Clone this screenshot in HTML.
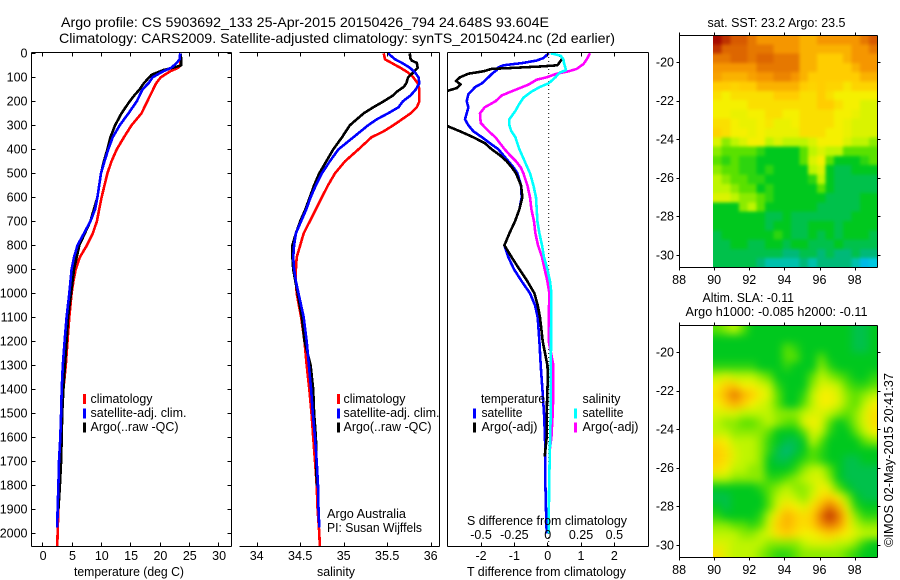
<!DOCTYPE html>
<html lang="en">
<head>
<meta charset="utf-8">
<title>Argo profile 5903692_133</title>
<style>
html,body{margin:0;padding:0;background:#fff}
svg{display:block}
text{font-family:"Liberation Sans",sans-serif;font-size:12.5px;fill:#000}
.title{font-size:14px}
</style>
</head>
<body>
<svg id="chart" width="900" height="580" viewBox="0 0 900 580" xmlns="http://www.w3.org/2000/svg">
<defs>
<clipPath id="clip1"><rect x="32" y="52" width="199.5" height="494"/></clipPath>
<clipPath id="clip2"><rect x="239.5" y="52" width="200" height="494"/></clipPath>
<clipPath id="clip3"><rect x="448" y="52" width="200.5" height="494"/></clipPath>
<clipPath id="clipMap1"><rect x="713" y="35" width="164.5" height="232.5"/></clipPath>
<clipPath id="clipMap2"><rect x="713" y="325" width="164.5" height="232.5"/></clipPath>
<filter id="blurSst" filterUnits="userSpaceOnUse" x="680" y="0" width="230" height="300" color-interpolation-filters="sRGB"><feGaussianBlur stdDeviation="1.6"/></filter>
<filter id="blurSla" filterUnits="userSpaceOnUse" x="680" y="290" width="230" height="290" color-interpolation-filters="sRGB"><feGaussianBlur stdDeviation="4.2"/></filter>
</defs>
<text class="title" x="61" y="27" textLength="488" lengthAdjust="spacingAndGlyphs">Argo profile: CS 5903692_133 25-Apr-2015 20150426_794 24.648S 93.604E</text>
<text class="title" x="59" y="43" textLength="556" lengthAdjust="spacingAndGlyphs">Climatology: CARS2009. Satellite-adjusted climatology: synTS_20150424.nc (2d earlier)</text>

<g id="maps"></g>
<g id="lines"></g>
<g id="axes"></g>

<g>
<rect x="83" y="394" width="3" height="10" fill="#f00"/>
<rect x="83" y="408.5" width="3" height="10" fill="#00f"/>
<rect x="83" y="422.5" width="3" height="10" fill="#000"/>
<text x="90.5" y="403" textLength="62" lengthAdjust="spacingAndGlyphs">climatology</text>
<text x="90.5" y="417" textLength="96" lengthAdjust="spacingAndGlyphs">satellite-adj. clim.</text>
<text x="90.5" y="431" textLength="88" lengthAdjust="spacingAndGlyphs">Argo(..raw -QC)</text>
</g>
<g>
<rect x="337" y="394" width="3" height="10" fill="#f00"/>
<rect x="337" y="408.5" width="3" height="10" fill="#00f"/>
<rect x="337" y="422.5" width="3" height="10" fill="#000"/>
<text x="343.5" y="403" textLength="62" lengthAdjust="spacingAndGlyphs">climatology</text>
<text x="343.5" y="417" textLength="96" lengthAdjust="spacingAndGlyphs">satellite-adj. clim.</text>
<text x="343.5" y="431" textLength="88" lengthAdjust="spacingAndGlyphs">Argo(..raw -QC)</text>
</g>
<g>
<text x="481" y="403" textLength="64" lengthAdjust="spacingAndGlyphs">temperature</text>
<rect x="473" y="408.5" width="3" height="10" fill="#00f"/>
<rect x="473" y="422.5" width="3" height="10" fill="#000"/>
<text x="481.5" y="417" textLength="41" lengthAdjust="spacingAndGlyphs">satellite</text>
<text x="481.5" y="431" textLength="56" lengthAdjust="spacingAndGlyphs">Argo(-adj)</text>
<text x="582.5" y="403" textLength="38" lengthAdjust="spacingAndGlyphs">salinity</text>
<rect x="574" y="408.5" width="3" height="10" fill="#0ff"/>
<rect x="574" y="422.5" width="3" height="10" fill="#f0f"/>
<text x="582.5" y="417" textLength="41" lengthAdjust="spacingAndGlyphs">satellite</text>
<text x="582.5" y="431" textLength="56" lengthAdjust="spacingAndGlyphs">Argo(-adj)</text>
</g>

<text x="327" y="518" textLength="79" lengthAdjust="spacingAndGlyphs">Argo Australia</text>
<text x="327" y="532" textLength="95" lengthAdjust="spacingAndGlyphs">PI: Susan Wijffels</text>

<text x="74" y="576" textLength="110" lengthAdjust="spacingAndGlyphs">temperature (deg C)</text>
<text x="317" y="576" textLength="38" lengthAdjust="spacingAndGlyphs">salinity</text>
<text x="467" y="576" textLength="159" lengthAdjust="spacingAndGlyphs">T difference from climatology</text>
<text x="467" y="525" textLength="160" lengthAdjust="spacingAndGlyphs">S difference from climatology</text>

<text x="707.5" y="27" textLength="138" lengthAdjust="spacingAndGlyphs">sat. SST: 23.2 Argo: 23.5</text>
<text x="702.5" y="302" textLength="91.5" lengthAdjust="spacingAndGlyphs">Altim. SLA: -0.11</text>
<text x="685.5" y="316" textLength="182" lengthAdjust="spacingAndGlyphs">Argo h1000: -0.085 h2000: -0.11</text>
<text transform="translate(893,547) rotate(-90)" x="0" y="0" textLength="174" lengthAdjust="spacingAndGlyphs">©IMOS 02-May-2015 20:41:37</text>

<script>
// ---------- profile data: temperature panel ----------
const depthTempClim = [0,50,60,75,100,125,150,200,250,300,350,400,450,500,550,600,650,700,750,800,850,900,950,1000,1100,1200,1300,1400,1500,1600,1700,1800,1900,2000,2053];
const tempClim = [23.5,23.5,23.2,21.8,20.2,19.4,18.9,17.9,16.9,15.2,13.9,12.7,11.8,11.1,10.6,10.1,9.7,9.3,8.6,7.6,6.4,5.7,5.3,5.0,4.6,4.3,4.0,3.6,3.4,3.3,3.1,3.0,2.75,2.6,2.55];
const depthTempSat = [0,25,40,60,75,100,125,150,200,250,300,350,400,450,500,600,650,700,750,800,850,900,1000,1100,1200,1300,1400,1500,1600,1700,1800,1900,1975];
const tempSat = [23.5,23.4,22.9,22,20.6,18.8,18.1,17.1,16.1,14.7,13.2,12,11.25,10.6,10,9.4,9,8.2,7.1,6,5.4,5,4.6,4.15,3.8,3.5,3.3,3.2,3.07,2.85,2.75,2.6,2.55];
const depthTempArgo = [0,50,60,70,90,125,150,175,200,250,300,350,400,450,500,600,700,800,900,1000,1100,1200,1300,1400,1500,1600,1700,1800,1900];
const tempArgo = [23.6,23.7,22.3,20.6,18.6,17.3,16.6,15.7,14.9,13.5,12.4,11.6,11.1,10.5,10,9.4,8.2,6.3,5.4,4.9,4.4,4.15,3.86,3.6,3.4,3.3,3.2,3.0,2.75];

// ---------- profile data: salinity panel ----------
const depthSalClim = [0,25,40,60,80,100,125,150,175,200,225,250,275,300,325,350,400,450,500,550,600,650,700,750,800,850,900,950,1000,1100,1200,1300,1400,1500,1600,1700,1800,1900,2000,2053];
const salClim = [35.46,35.475,35.55,35.65,35.74,35.8,35.85,35.87,35.87,35.87,35.84,35.77,35.67,35.57,35.46,35.32,35.17,35.015,34.9,34.82,34.75,34.68,34.61,34.54,34.5,34.46,34.45,34.45,34.46,34.51,34.55,34.575,34.605,34.63,34.65,34.67,34.69,34.7,34.72,34.725];
const depthSalSat = [0,25,40,60,80,100,125,150,175,200,225,250,275,300,350,400,450,500,550,600,650,700,750,800,850,900,950,1000,1100,1200,1300,1400,1500,1600,1700,1800,1900,1975];
const salSat = [35.51,35.59,35.67,35.76,35.82,35.86,35.87,35.83,35.77,35.68,35.63,35.51,35.38,35.28,35.11,34.94,34.84,34.75,34.68,34.62,34.57,34.51,34.45,34.43,34.42,34.43,34.45,34.48,34.54,34.575,34.6,34.625,34.645,34.67,34.69,34.705,34.71,34.72];
const depthSalArgo = [0,20,30,40,60,80,100,125,140,160,175,200,225,250,300,350,400,450,500,550,600,650,700,750,800,850,900,1000,1100,1200,1300,1400,1500,1600,1700,1800];
const salArgo = [35.76,35.765,35.78,35.84,35.85,35.8,35.74,35.72,35.69,35.61,35.57,35.46,35.34,35.23,35.07,34.98,34.88,34.8,34.72,34.66,34.61,34.56,34.5,34.45,34.41,34.41,34.42,34.47,34.52,34.55,34.62,34.65,34.66,34.68,34.685,34.69];

// ---------- profile data: difference panel ----------
const depthDiffTSat = [0,20,30,40,50,60,70,80,100,125,140,170,200,225,250,275,300,325,350,375,400,425,450,475,500,550,600,650,700,750,800,850,900,950,1000,1050,1100,1200,1300,1400,1500,1600,1700,1800,1900,2000];
const diffTSat = [0,-0.16,-0.36,-0.76,-1.36,-1.53,-1.56,-1.66,-1.81,-2.0,-2.2,-2.41,-2.46,-2.41,-2.46,-2.51,-2.41,-2.26,-2.0,-1.76,-1.51,-1.36,-1.21,-1.06,-0.94,-0.83,-0.81,-0.88,-1.01,-1.18,-1.33,-1.21,-1.04,-0.81,-0.56,-0.41,-0.33,-0.28,-0.24,-0.19,-0.14,-0.11,-0.1,-0.1,-0.08,-0.06];
const depthDiffTArgo = [10,20,35,50,55,60,65,75,85,100,115,130,145,155,170,200,250,300,305,325,350,375,400,425,450,475,500,550,600,650,700,750,800,850,900,950,1000,1050,1100,1200,1300,1350,1400,1500,1600,1680];
const diffTArgo = [0.34,0.42,0.34,0.26,-0.26,-0.96,-1.71,-1.96,-2.41,-2.66,-2.78,-2.64,-2.76,-3.0,-3.46,-4.2,-4.46,-3.11,-3.01,-2.66,-2.26,-1.91,-1.71,-1.46,-1.26,-1.11,-0.98,-0.83,-0.79,-0.88,-1.01,-1.18,-1.33,-1.11,-0.88,-0.64,-0.43,-0.33,-0.26,-0.18,-0.04,-0.02,-0.04,-0.06,-0.06,-0.12];
const depthDiffSSat = [0,10,25,40,50,70,80,100,125,140,160,185,210,240,275,300,325,350,400,450,500,550,600,650,700,750,800,850,900,950,1000,1100,1500,1800,2000];
const diffSSat = [0.015,0.09,0.11,0.115,0.12,0.13,0.085,0.05,0,-0.065,-0.13,-0.19,-0.22,-0.25,-0.295,-0.295,-0.28,-0.25,-0.22,-0.18,-0.14,-0.115,-0.095,-0.09,-0.085,-0.07,-0.05,-0.035,-0.01,0.01,0.02,0.018,0.015,0.003,0];
const depthDiffSArgo = [0,20,30,45,65,75,85,100,110,130,150,175,200,225,250,290,325,350,375,400,425,450,475,500,550,600,650,700,750,800,850,900,950,1000,1100,1200,1300,1400,1500,1600,1645];
const diffSArgo = [0.31,0.29,0.28,0.26,0.21,0.15,0.06,-0.015,-0.09,-0.15,-0.24,-0.35,-0.4,-0.48,-0.515,-0.51,-0.45,-0.4,-0.365,-0.33,-0.29,-0.245,-0.21,-0.19,-0.16,-0.14,-0.13,-0.11,-0.1,-0.08,-0.05,-0.03,-0.01,0.005,0,0,0.035,0.035,0.03,0.02,0.01];

// ---------- axis ticks ----------
const depthTicks = [0,100,200,300,400,500,600,700,800,900,1000,1100,1200,1300,1400,1500,1600,1700,1800,1900,2000];
const tempTicks = [0,5,10,15,20,25,30];
const salTicks = [34,34.5,35,35.5,36];
const diffTTicks = [-2,-1,0,1,2];
const diffSTicks = [-0.5,-0.25,0,0.25,0.5];
const lonTicks = [88,90,92,94,96,98];
const latTicks = [-20,-22,-24,-26,-28,-30];

// ---------- satellite SST map (colour level per cell, north to south, 90E eastward) ----------
const sstGrid = [
[10,9.5,9,9,8.5,8,8,8,8,8,7.5,7.5,8,8,8,8,8,8.5,9],
[9.5,8.8,8.8,8.8,8.5,8.5,8.5,8,8,8,7.5,7.5,7.5,7.5,7.5,7.5,8,8,8.5],
[8.5,8.5,8.8,8.8,8.5,8.8,8.8,8.5,8.5,8.5,7.5,7.5,7,7,7,7.5,8,8,8],
[8,8,8,8,8,8.5,8.5,8.5,8.5,8.5,7.5,7.5,7,7,7,7,7.5,8,8],
[7.8,7.5,7.5,7.5,7.8,8,8,8.3,8.3,8,7.5,7,7,7,7,7,7,7.5,7.5],
[7,7,6.8,7,7,7.5,7.5,7.5,7.5,7.5,7,6.8,7,6.8,6.8,6.3,6.8,6.8,6.8],
[6.5,6,6.5,6.5,6.5,6.5,6.5,7,7,7,6.5,6.5,7,6.5,6,6,6,6,6],
[6,6,6,6,6.5,6.5,6.5,6.5,6.5,6.5,6.5,6.5,7,7,6.5,6,6,5.5,5.5],
[6,6,5.8,5.8,6,6,6.5,6.5,6,6,6.5,6.5,6.5,6.5,6,6,5.8,5.5,5.5],
[6.5,6.5,6,5.8,5.8,6,6.3,5.8,5.8,6,6.5,6.5,6.5,6.5,6,5.8,5.5,5.5,5.5],
[6.8,6.5,6,6,5.8,6,5.8,5.8,5.8,5.8,6.5,6.5,6.5,6,6,5.8,5.5,5.5,5.5],
[5.5,4.5,5,5.5,6,6,5,5.5,5,5,5,5.5,6,6,6,5.5,5,5,4.5],
[4.5,4,4,4,4,3.5,3,3,3,3,4,5,5.5,5,5,4,4,4,4],
[4,3.5,4,3.5,3.5,3,3,3,3,3,4,5.5,6,4,3,3,3,3.5,4],
[4.5,4,4,3.5,3.5,3,3.5,3,3,3,3,5,5.5,3,2.5,2.5,3,3,3],
[5,4.5,4,4,3.5,3.5,3,3,3,3,3,3.5,5,3,2.5,2.5,2.5,2.5,2.5],
[5,5,4.5,4,4,3,3.5,3,3,3,3,3,4,3,2.5,2.5,2.5,2.5,2.5],
[5.5,5.5,5,4.5,4.5,4,3.5,3,3,3,3,3,3,2.5,2.5,2.5,2.5,3,3],
[3,3,3,4.5,5,4,3,3,3,3,3,3,2.5,2.5,2.5,2.5,2.5,3,3],
[3,3,3,3,3,3,2.5,2.5,3,2.5,2.5,2.5,2.5,2.5,2.5,2.5,3,3,3],
[3,3,3,3,3,3,2.5,3,3,2.5,2.5,3,3,3,2.5,3,3,3,3],
[2.5,3,3,3,3,3,3,3.5,3,2.5,2.5,3,2.5,3,2.5,3,3,3,2.5],
[2.5,2.5,3,3,2.5,2.5,3,3,2.5,3,3,2.5,2.5,2.5,3,2.5,2.5,2.5,2.5],
[2.5,2.5,2.5,2.5,2.5,2.5,2.5,2.5,2,2,2.5,2.5,2,2.5,2,2,2.5,2,2],
[2.5,2.5,2.5,2.5,2.5,2,1.5,1.5,1.5,1.5,2,1.5,2,2,2,2,1.5,0.8,1]
];

// ---------- altimeter SLA map (colour level per cell) ----------
const slaGrid = [
[4,4.5,5,4,3,3,3,3,3,3,3,3,3,3,3,3,2.5,2.5,3],
[3,3,3,3,3,3,3,3,3,3,3,3,3,3,3,3,2.5,2.5,3],
[3,3,3,3,3,3,3,3,4,3.5,3,3,3,3,3,3,2.5,2.5,3],
[3,3,3,3,3,3,3,3,4,4,3,3,4,3,3,3,3,3,3],
[3.5,3.5,3.5,3.5,3.5,3,3,3,3.5,3,3,3,4.5,3.5,3,3,3,3,3],
[5,5.5,5,5,5,4.5,4,3,3,3,3,4,5,4.5,4,3.5,3,3,3.5],
[6,7,7,6,6,5.5,5,3.5,3,3,3,4.5,5.5,5.5,5,4,3.5,3.5,4],
[6.5,7.5,8.5,7.5,7,6,5.5,4,3,3,3.5,5,6,6,5.5,4.5,4,4.5,5],
[6,7,7.5,7,6,5.5,5,4,3,3,4,5,6,6,5.5,4.5,4,5,6],
[5.5,5.5,5.5,5,5,5,5,4.5,4.5,4.5,5,5.5,5.5,5,4.5,4,4.5,5.5,6.5],
[5,4.5,4.5,4,4,4.5,5,4.5,4,4,5.5,6,5.5,4,3,3.5,4.5,5.5,6.5],
[5,5,4.5,4.5,4.5,4.5,4,3,3,3,4,5.5,5,3.5,3,3,4,5,6],
[6.5,6,5,5,5,4.5,3.5,3,2.5,2.5,3,5,4,3,3,3,3,4,4.5],
[7,6.5,5.5,5,5,4.5,3.5,2.5,2,2.5,3,4,3.5,3,3,3,3,3,3],
[7,6.5,5.5,5,5,4.5,3,2.5,2.5,3,3.5,4,3.5,3,3,2.5,2.5,3,3],
[6.5,6,5,5,4.5,4.5,3,3,3,3.5,4.5,5,5,4,3,2.5,2.5,2.5,2.5],
[5,5,4.5,4.5,4.5,4.5,3.5,3.5,4,4.5,5,5.5,5.5,4.5,3,2.5,2.5,2.5,2.5],
[3,3,3,3,3,3.5,4,4.5,5,4.5,4.5,5,6,5.5,4,3,2.5,2.5,2.5],
[2.5,2.5,3,3,3,3,4,5,5.5,5,4.5,5.5,6.5,7,6,4.5,3,2.5,2.5],
[3,2.5,3,3,3,3,4,5.5,6.5,6,5.5,6.5,7.5,8.5,7.5,5.5,3.5,3,3],
[3.5,3,3,3,3,3.5,5,6.5,7.5,7,6.5,7,8.5,9.5,8.5,6.5,4.5,3.5,3.5],
[4.5,4.5,4,4,3.5,4,5.5,7,7.5,7,6.5,7,8,8.5,8,6.5,5,4.5,4.5],
[5,5,5,4.5,4.5,5,5.5,6.5,7,6.5,6,6,6.5,7,6.5,6,5.5,5,5],
[5.5,5.5,5,5,5,5,4.5,4.5,4.5,4.5,5,5.5,5.5,5.5,5,5,4.5,3.5,3],
[6.5,5.5,5,5,5,4.5,4,3.5,3.5,4,4.5,4.5,4.5,4.5,4.5,4,3.5,3,3]
];

// ---------- axis functions ----------
const NS = 'http://www.w3.org/2000/svg';
const yDepth = d => 53.3 + d * 0.24;
const xTemp = t => 42.3 + t * 5.867;
const xSal = s => 256.7 + (s - 34) * 87;
const xDiffT = t => 548.7 + t * 33.33;
const xDiffS = s => 548.7 + s * 133.33;
const xLon = l => 714.2 + (l - 90) * 17.55;
const yLat = (l, top) => top + 27 + (-20 - l) * 19.3;

function make(tag, attrs, parent) {
  const el = document.createElementNS(NS, tag);
  for (const k in attrs) el.setAttribute(k, attrs[k]);
  parent.appendChild(el);
  return el;
}
const linesG = document.getElementById('lines');
const axesG = document.getElementById('axes');
const mapsG = document.getElementById('maps');

// ---------- profile lines ----------
function drawProfile(parent, depths, values, xFn, color, name) {
  const pts = values.map((v, i) => xFn(v).toFixed(1) + ',' + yDepth(depths[i]).toFixed(1)).join(' ');
  const el = make('polyline', {points: pts, fill: 'none', stroke: color, 'stroke-width': 2.6, 'stroke-linejoin': 'round', 'shape-rendering': 'crispEdges'}, parent);
  
  
}
const g1 = make('g', {'clip-path': 'url(#clip1)'}, linesG);


drawProfile(g1, depthTempClim, tempClim, xTemp, '#f00', 'temperature-climatology-line');
drawProfile(g1, depthTempArgo, tempArgo, xTemp, '#000', 'temperature-argo-line');
drawProfile(g1, depthTempSat, tempSat, xTemp, '#00f', 'temperature-satellite-line');

const g2 = make('g', {'clip-path': 'url(#clip2)'}, linesG);


drawProfile(g2, depthSalClim, salClim, xSal, '#f00', 'salinity-climatology-line');
drawProfile(g2, depthSalArgo, salArgo, xSal, '#000', 'salinity-argo-line');
drawProfile(g2, depthSalSat, salSat, xSal, '#00f', 'salinity-satellite-line');

const g3 = make('g', {'clip-path': 'url(#clip3)'}, linesG);


const zero = make('line', {x1: xDiffT(0), x2: xDiffT(0), y1: 53, y2: 546, stroke: '#000', 'stroke-width': 1, 'stroke-dasharray': '1 3'}, g3);


drawProfile(g3, depthDiffTSat, diffTSat, xDiffT, '#00f', 'diff-t-satellite-line');
drawProfile(g3, depthDiffTArgo, diffTArgo, xDiffT, '#000', 'diff-t-argo-line');
drawProfile(g3, depthDiffSArgo, diffSArgo, xDiffS, '#f0f', 'diff-s-argo-line');
drawProfile(g3, depthDiffSSat, diffSSat, xDiffS, '#0ff', 'diff-s-satellite-line');

// ---------- heat maps ----------
const stops = [[0,130,255],[0,200,225],[0,185,120],[0,200,30],[90,225,0],[190,245,0],[245,240,0],[255,205,0],[245,150,0],[215,90,0],[165,10,0]];
function levelColor(v) {
  const c = Math.max(0, Math.min(10, v));
  const i = Math.min(9, Math.floor(c));
  const f = c - i;
  const m = stops[i].map((s, k) => Math.round(s + (stops[i + 1][k] - s) * f));
  return 'rgb(' + m.join(',') + ')';
}
function drawMap(grid, top, clipId, filterId, name) {
  const outer = make('g', {'clip-path': 'url(#' + clipId + ')'}, mapsG);
  
  
  const inner = make('g', {filter: 'url(#' + filterId + ')', 'shape-rendering': 'crispEdges'}, outer);
  const rows = grid.length, cols = grid[0].length;
  const cw = 164.5 / cols, ch = 232.5 / rows, left = 713, pad = 14;
  grid.forEach((row, r) => row.forEach((v, c) => {
    const x0 = left + c * cw - (c === 0 ? pad : 0);
    const x1 = left + (c + 1) * cw + (c === cols - 1 ? pad : 0);
    const y0 = top + r * ch - (r === 0 ? pad : 0);
    const y1 = top + (r + 1) * ch + (r === rows - 1 ? pad : 0);
    const cell = make('rect', {x: x0.toFixed(2), y: y0.toFixed(2), width: (x1 - x0 + 0.5).toFixed(2), height: (y1 - y0 + 0.5).toFixed(2), fill: levelColor(v)}, inner);
    
    
  }));
}
drawMap(sstGrid, 35, 'clipMap1', 'blurSst', 'sst-heatmap');
drawMap(slaGrid, 325, 'clipMap2', 'blurSla', 'sla-heatmap');

// ---------- axes ----------
function seg(x1, y1, x2, y2, name) {
  const el = make('line', {x1: x1, y1: y1, x2: x2, y2: y2, stroke: '#000', 'stroke-width': 1, 'shape-rendering': 'crispEdges'}, axesG);
  
  
}
function label(x, y, str, anchor, name) {
  const el = make('text', {x: x, y: y, 'text-anchor': anchor}, axesG);
  el.textContent = str;
  
  
}
const top0 = 52.5, bot0 = 546.5, tl = 4;
// temperature panel frame
seg(31.5, top0, 231.5, top0, 'temperature-top-axis');
seg(31.5, bot0, 231.5, bot0, 'temperature-bottom-axis');
seg(31.5, top0, 31.5, bot0, 'depth-axis-left');
seg(231.5, top0, 231.5, bot0, 'depth-axis-right');
depthTicks.forEach(d => {
  const y = Math.round(yDepth(d)) + 0.5;
  seg(31.5, y, 31.5 + tl, y, 'depth-tick');
  seg(231.5 - tl, y, 231.5, y, 'depth-tick');
  label(27.5, yDepth(d) + 4.3, String(d), 'end', 'depth-tick-label');
});
tempTicks.forEach(t => {
  const x = Math.round(xTemp(t)) + 0.5;
  seg(x, top0, x, top0 + tl, 'temperature-tick');
  seg(x, bot0 - tl, x, bot0, 'temperature-tick');
  label(xTemp(t) + 0.8, 560, String(t), 'middle', 'temperature-tick-label');
});
// salinity panel frame
seg(239.5, top0, 439.5, top0, 'salinity-top-axis');
seg(239.5, bot0, 439.5, bot0, 'salinity-bottom-axis');
seg(439.5, top0, 439.5, bot0, 'salinity-right-edge');
salTicks.forEach(s => {
  const x = Math.round(xSal(s)) + 0.5;
  seg(x, top0, x, top0 + tl, 'salinity-tick');
  seg(x, bot0 - tl, x, bot0, 'salinity-tick');
  label(xSal(s), 560, String(s), 'middle', 'salinity-tick-label');
});
// difference panel frame
seg(447.5, top0, 648.5, top0, 'difference-top-axis');
seg(447.5, bot0, 648.5, bot0, 'difference-bottom-axis');
seg(447.5, top0, 447.5, bot0, 'difference-left-edge');
seg(648.5, top0, 648.5, bot0, 'difference-right-edge');
diffTTicks.forEach(t => {
  const x = Math.round(xDiffT(t) - 1.4) + 0.5;
  seg(x, top0, x, top0 + tl, 'diff-t-tick');
  seg(x, bot0 - tl, x, bot0, 'diff-t-tick');
  label(xDiffT(t) - 1, 560, String(t), 'middle', 'diff-t-tick-label');
});
diffSTicks.forEach(s => {
  label(xDiffS(s) - 1, 539, String(s), 'middle', 'diff-s-tick-label');
});
// map frames
[[35, 267.5, 284, 'sst'], [325, 557.5, 574, 'sla']].forEach(m => {
  const t = m[0] + 0.5, b = m[1], prefix = m[3];
  seg(679.5, t, 877.5, t, prefix + '-top-axis');
  seg(679.5, b, 877.5, b, prefix + '-bottom-axis');
  seg(679.5, t, 679.5, b, prefix + '-left-axis');
  seg(877.5, t, 877.5, b, prefix + '-right-axis');
  lonTicks.forEach(l => {
    const x = Math.round(xLon(l)) + 0.5;
    seg(x, t - 3, x, t, prefix + '-lon-tick');
    seg(x, b, x, b + 3, prefix + '-lon-tick');
    label(xLon(l), m[2], String(l), 'middle', prefix + '-lon-tick-label');
  });
  latTicks.forEach(l => {
    const y = Math.round(yLat(l, m[0])) + 0.5;
    seg(676.5, y, 679.5, y, prefix + '-lat-tick');
    seg(877.5, y, 880.5, y, prefix + '-lat-tick');
    label(674, yLat(l, m[0]) + 4.3, String(l), 'end', prefix + '-lat-tick-label');
  });
});
</script>
</svg>
</body>
</html>
